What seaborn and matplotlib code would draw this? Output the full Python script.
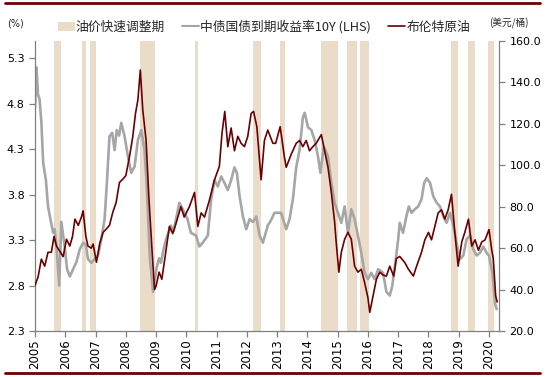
import matplotlib
matplotlib.use("Agg")
import matplotlib.pyplot as plt
import seaborn as sns
import pandas as pd
from matplotlib.patches import Patch
from matplotlib.lines import Line2D

sns.set_style("ticks")
plt.rcParams['font.family'] = ['DejaVu Sans', 'Noto Sans CJK SC']

# 中债国债到期收益率10Y (%), decimal year
bond_years = [2005.0, 2005.05, 2005.1, 2005.15, 2005.21, 2005.27, 2005.36, 2005.43, 2005.51, 2005.6,
              2005.65, 2005.71, 2005.8, 2005.87, 2005.93, 2005.98, 2006.06, 2006.15, 2006.26, 2006.37,
              2006.48, 2006.59, 2006.68, 2006.75, 2006.86, 2006.97, 2007.08, 2007.19, 2007.3, 2007.38,
              2007.46, 2007.55, 2007.63, 2007.7, 2007.78, 2007.85, 2007.96, 2008.07, 2008.18, 2008.29,
              2008.4, 2008.51, 2008.62, 2008.7, 2008.79, 2008.9, 2009.02, 2009.1, 2009.16, 2009.25,
              2009.33, 2009.49, 2009.58, 2009.66, 2009.77, 2009.88, 2010.04, 2010.15, 2010.32, 2010.43,
              2010.54, 2010.71, 2010.82, 2010.93, 2011.04, 2011.15, 2011.26, 2011.37, 2011.48, 2011.59,
              2011.67, 2011.76, 2011.87, 2011.98, 2012.09, 2012.2, 2012.31, 2012.42, 2012.53, 2012.69,
              2012.8, 2012.91, 2013.13, 2013.3, 2013.41, 2013.52, 2013.63, 2013.74, 2013.85, 2013.91,
              2014.02, 2014.13, 2014.24, 2014.35, 2014.43, 2014.54, 2014.68, 2014.79, 2014.9, 2015.01,
              2015.12, 2015.23, 2015.34, 2015.45, 2015.56, 2015.67, 2015.78, 2015.89, 2016.0, 2016.11,
              2016.22, 2016.34, 2016.5, 2016.61, 2016.72, 2016.8, 2016.89, 2017.0, 2017.05, 2017.16,
              2017.27, 2017.35, 2017.44, 2017.55, 2017.66, 2017.77, 2017.86, 2017.94, 2018.05, 2018.16,
              2018.27, 2018.38, 2018.49, 2018.6, 2018.71, 2018.82, 2018.93, 2019.04, 2019.15, 2019.26,
              2019.37, 2019.48, 2019.59, 2019.7, 2019.81, 2019.92, 2020.0, 2020.11, 2020.2, 2020.25]
bond_yield = [4.75, 5.2, 4.9, 4.85, 4.6, 4.15, 3.96, 3.67, 3.53, 3.38,
              3.42, 3.23, 2.8, 3.5, 3.35, 3.23, 2.98, 2.9, 2.98, 3.06,
              3.2, 3.27, 3.25, 3.09, 3.05, 3.09, 3.13, 3.31, 3.53, 3.96,
              4.44, 4.48, 4.29, 4.51, 4.45, 4.59, 4.44, 4.22, 4.04, 4.11,
              4.4, 4.51, 4.29, 3.85, 3.12, 2.73, 3.0, 3.1, 3.05, 3.2,
              3.31, 3.46, 3.4, 3.53, 3.71, 3.64, 3.53, 3.38, 3.35, 3.23,
              3.27, 3.35, 3.75, 3.96, 3.89, 4.0, 3.93, 3.85, 3.96, 4.1,
              4.04, 3.78, 3.56, 3.42, 3.53, 3.5, 3.56, 3.35, 3.27, 3.46,
              3.52, 3.6, 3.6, 3.42, 3.53, 3.75, 4.1, 4.29, 4.65, 4.7,
              4.54, 4.51, 4.4, 4.22, 4.04, 4.33, 4.22, 3.93, 3.71, 3.6,
              3.49, 3.67, 3.38, 3.64, 3.53, 3.35, 3.16, 2.94, 2.87, 2.94,
              2.87, 2.98, 2.94, 2.73, 2.69, 2.79, 3.01, 3.31, 3.49, 3.38,
              3.56, 3.67, 3.6, 3.64, 3.67, 3.75, 3.93, 3.98, 3.93, 3.78,
              3.71, 3.67, 3.56, 3.49, 3.6, 3.46, 3.27, 3.09, 3.13, 3.31,
              3.35, 3.2, 3.13, 3.16, 3.23, 3.16, 3.13, 2.94, 2.6, 2.54]

# 布伦特原油 (美元/桶), decimal year
brent_years = [2005.0, 2005.1, 2005.21, 2005.32, 2005.43, 2005.54, 2005.63, 2005.71, 2005.82, 2005.93,
               2006.04, 2006.15, 2006.24, 2006.32, 2006.43, 2006.54, 2006.59, 2006.68, 2006.75, 2006.86,
               2006.92, 2007.03, 2007.14, 2007.25, 2007.36, 2007.46, 2007.57, 2007.68, 2007.79, 2007.9,
               2008.0, 2008.12, 2008.23, 2008.32, 2008.4, 2008.48, 2008.56, 2008.67, 2008.76, 2008.87,
               2008.95, 2009.0, 2009.1, 2009.19, 2009.3, 2009.44, 2009.55, 2009.66, 2009.82, 2009.93,
               2010.1, 2010.27, 2010.38, 2010.49, 2010.6, 2010.76, 2010.93, 2011.09, 2011.18, 2011.27,
               2011.37, 2011.48, 2011.59, 2011.7, 2011.81, 2011.92, 2012.03, 2012.14, 2012.22, 2012.33,
               2012.47, 2012.58, 2012.69, 2012.86, 2012.95, 2013.1, 2013.24, 2013.3, 2013.47, 2013.63,
               2013.74, 2013.85, 2013.96, 2014.07, 2014.18, 2014.29, 2014.46, 2014.57, 2014.68, 2014.79,
               2014.9, 2014.95, 2015.04, 2015.12, 2015.23, 2015.34, 2015.45, 2015.56, 2015.67, 2015.78,
               2015.89, 2016.0, 2016.06, 2016.17, 2016.28, 2016.39, 2016.5, 2016.61, 2016.72, 2016.85,
               2016.94, 2017.05, 2017.22, 2017.33, 2017.5, 2017.6, 2017.77, 2017.88, 2018.0, 2018.1,
               2018.21, 2018.32, 2018.43, 2018.54, 2018.65, 2018.76, 2018.87, 2018.98, 2019.1, 2019.2,
               2019.32, 2019.43, 2019.54, 2019.65, 2019.76, 2019.87, 2020.0, 2020.09, 2020.14, 2020.22,
               2020.27]
brent_price = [42, 46, 54.7, 51.3, 58, 58, 65.7, 61, 58.5, 55.9,
               64.3, 61, 65.7, 74, 71, 75.3, 78, 65.7, 61, 60,
               62, 53.2, 62.3, 67.6, 69.3, 71, 77.3, 82, 91.7, 93.3,
               95, 104, 113.8, 125, 131.6, 146, 126.8, 112, 85, 58,
               40, 41.7, 48.4, 45, 56, 70.5, 67, 72, 80, 75,
               80, 86.9, 70.5, 77, 75, 83, 93, 99.4, 115.7, 126,
               109, 118, 107, 114, 110.6, 109, 114, 125, 126, 118.6,
               93, 112, 117, 110.6, 110.6, 118.6, 104, 99, 105.5, 110.6,
               112, 109, 112, 107, 109, 110.6, 114.8, 107, 99, 87,
               72.5, 63, 48.4, 58, 64.3, 67.6, 64.3, 51.3, 48.4, 49.8,
               43.4, 36, 29, 37, 45, 48.4, 47, 46.5, 51.3, 46.5,
               55, 56, 53, 50, 46.5, 51, 58, 64, 67.6, 64,
               70.5, 77, 78.5, 74, 78.5, 86, 67.6, 51.3, 63, 67.6,
               74, 61, 64, 59, 63, 64, 69, 59, 55, 37,
               34]

# 油价快速调整期
shade_start = [2005.63, 2006.55, 2006.82, 2008.47, 2010.3, 2012.2, 2013.08, 2014.44, 2015.3, 2015.73,
               2018.73, 2019.29, 2019.98]
shade_end = [2005.86, 2006.68, 2007.01, 2008.96, 2010.37, 2012.46, 2013.25, 2015.0, 2015.63, 2016.02,
             2018.96, 2019.55, 2020.15]

year_ticks = list(range(2005, 2021))

shade_color = '#EBDCC9'
gray = '#A6A6A6'
dark_red = '#6B0000'
axis_color = '#808080'

bond_df = pd.DataFrame({'year': bond_years, 'yield': bond_yield})
brent_df = pd.DataFrame({'year': brent_years, 'price': brent_price})

fig = plt.figure(figsize=(5.45, 3.77), dpi=100)
ax = fig.add_axes([35 / 545, 46 / 377, 464 / 545, 290 / 377])

# shaded periods of rapid oil price adjustment
for s, e in zip(shade_start, shade_end):
    ax.axvspan(s, e, color=shade_color, lw=0, zorder=0)

sns.lineplot(data=bond_df, x='year', y='yield', ax=ax, color=gray, lw=1.9,
             sort=False, estimator=None, zorder=2)
ax2 = ax.twinx()
sns.lineplot(data=brent_df, x='year', y='price', ax=ax2, color=dark_red, lw=1.2,
             sort=False, estimator=None, zorder=3)
ax2.xaxis.set_visible(False)

ax.set_xlim(2005, 2020.33)
ax.set_ylim(2.3, 5.49)
ax.set_yticks([2.3, 2.8, 3.3, 3.8, 4.3, 4.8, 5.3])
ax.set_yticklabels([f'{v:.1f}' for v in [2.3, 2.8, 3.3, 3.8, 4.3, 4.8, 5.3]])
ax2.set_ylim(20, 160)
ax2.set_yticks(range(20, 161, 20))
ax2.set_yticklabels([f'{v:.1f}' for v in range(20, 161, 20)])

for a in (ax, ax2):
    a.set_xlabel('')
    a.set_ylabel('')
    a.spines['top'].set_visible(False)
    for sp in ('left', 'right', 'bottom'):
        a.spines[sp].set_color(axis_color)
        a.spines[sp].set_linewidth(0.9)
    a.tick_params(colors=axis_color, labelcolor='black', labelsize=8, length=4, width=0.9)
ax.spines['right'].set_visible(False)
ax2.spines['left'].set_visible(False)
ax2.spines['bottom'].set_visible(False)

ax.set_xticks(year_ticks)
ax.set_xticklabels([str(y) for y in year_ticks], rotation=90, fontsize=8.5)
ax.tick_params(axis='x', pad=2)

# legend
handles = [Patch(facecolor=shade_color, edgecolor='none'),
           Line2D([], [], color=gray, lw=1.5),
           Line2D([], [], color=dark_red, lw=1.2)]
labels = ['油价快速调整期', '中债国债到期收益率10Y (LHS)', '布伦特原油']
fig.legend(handles, labels, loc='center left', bbox_to_anchor=(58 / 545, 1 - 27 / 377),
           ncol=3, frameon=False, prop={'family': ['Noto Sans CJK SC'], 'size': 9.2},
           handlelength=1.3, handleheight=0.7, handletextpad=0.1, columnspacing=1.35,
           borderpad=0, borderaxespad=0)
fig.text(16 / 545, 1 - 24 / 377, '(%)', ha='center', va='center', fontsize=7)
fig.text(489 / 545, 1 - 23 / 377, '(美元/桶)', ha='left', va='center', fontsize=7,
         family=['Noto Sans CJK SC'])

# top and bottom rules
fig.add_artist(Line2D([0.01, 0.99], [1 - 3 / 377, 1 - 3 / 377], color=dark_red, lw=2))
fig.add_artist(Line2D([0.01, 0.99], [1 - 373 / 377, 1 - 373 / 377], color=dark_red, lw=2))

fig.savefig('out.png', dpi=100)
